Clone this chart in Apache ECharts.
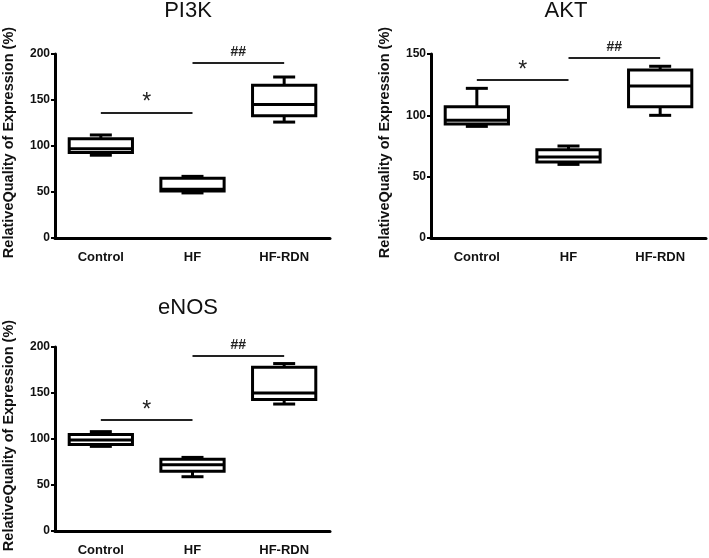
<!DOCTYPE html>
<html>
<head>
<meta charset="utf-8">
<script src="https://cdn.jsdelivr.net/npm/echarts@6/dist/echarts.min.js"></script>
<style>
  html, body { margin: 0; padding: 0; background: #fff; }
  #main { width: 709px; height: 558px; }
</style>
</head>
<body>
<div id="main"></div>
<script>
const categories = ['Control', 'HF', 'HF-RDN'];

// [min, q1, median, q3, max] per group
const pi3kBox = [[90, 93, 97, 108, 112], [49, 51, 53, 65, 67], [126, 133, 145, 166, 175]];
const aktBox = [[91, 93, 96, 107, 122], [60, 62, 66, 72, 75], [100, 107, 124, 137, 140]];
const enosBox = [[92, 94, 99, 105, 108], [59, 65, 72, 78, 80], [138, 143, 150, 178, 182]];

// significance bar heights: [* Control-HF, ## HF-HF-RDN]
const pi3kSig = [136.5, 190.5];
const aktSig = [129, 147];
const enosSig = [120.5, 190];

const titles = ['PI3K', 'AKT', 'eNOS'];
const yMax = [200, 150, 200];
const grids = [
  { left: 54, top: 54, width: 276, height: 184 },
  { left: 431, top: 54, width: 275, height: 184 },
  { left: 54, top: 347, width: 276, height: 184 }
];
const titlePos = [{ left: 188, top: 0 }, { left: 566, top: 0 }, { left: 188, top: 297 }];

const font = 'Liberation Sans, Arial, sans-serif';

function renderBox(params, api) {
  const x = api.value(0);
  const pMin = api.coord([x, api.value(1)]);
  const pQ1 = api.coord([x, api.value(2)]);
  const pMed = api.coord([x, api.value(3)]);
  const pQ3 = api.coord([x, api.value(4)]);
  const pMax = api.coord([x, api.value(5)]);
  const cx = pMed[0];
  const bw = api.size([1, 0])[0] * 0.69;
  const cw = 22;
  const st = { stroke: '#000', lineWidth: 3, fill: null };
  return {
    type: 'group',
    children: [
      { type: 'line', shape: { x1: cx, y1: pQ3[1], x2: cx, y2: pMax[1] }, style: st },
      { type: 'line', shape: { x1: cx, y1: pQ1[1], x2: cx, y2: pMin[1] }, style: st },
      { type: 'line', shape: { x1: cx - cw / 2, y1: pMax[1], x2: cx + cw / 2, y2: pMax[1] }, style: st },
      { type: 'line', shape: { x1: cx - cw / 2, y1: pMin[1], x2: cx + cw / 2, y2: pMin[1] }, style: st },
      { type: 'rect', shape: { x: cx - bw / 2, y: pQ3[1], width: bw, height: pQ1[1] - pQ3[1] },
        style: { stroke: '#000', lineWidth: 3, fill: '#fff' } },
      { type: 'line', shape: { x1: cx - bw / 2, y1: pMed[1], x2: cx + bw / 2, y2: pMed[1] }, style: st }
    ]
  };
}

function sigLine(a, b, y, text, size, weight, dist) {
  return [
    { coord: [a, y], label: { formatter: text, fontSize: size, fontWeight: weight, distance: dist } },
    { coord: [b, y] }
  ];
}

const boxes = [pi3kBox, aktBox, enosBox];
const sigs = [pi3kSig, aktSig, enosSig];

const option = {
  animation: false,
  title: titles.map((t, i) => ({
    text: t,
    left: titlePos[i].left,
    top: titlePos[i].top,
    padding: 0,
    textAlign: 'center',
    textStyle: { fontFamily: font, fontSize: 22, fontWeight: 'normal', color: '#111' }
  })),
  grid: grids,
  xAxis: grids.map((g, i) => ({
    type: 'category',
    gridIndex: i,
    data: categories,
    axisLine: { lineStyle: { color: '#000', width: 3 } },
    axisTick: { alignWithLabel: true, length: 4, lineStyle: { color: '#000', width: 2 } },
    axisLabel: { fontFamily: font, fontSize: 13, fontWeight: 'bold', color: '#111', margin: 13 }
  })),
  yAxis: grids.map((g, i) => ({
    type: 'value',
    gridIndex: i,
    min: 0,
    max: yMax[i],
    interval: 50,
    name: 'RelativeQuality of Expression (%)',
    nameLocation: 'middle',
    nameGap: 39,
    nameTextStyle: { fontFamily: font, fontSize: 14.5, fontWeight: 'bold', color: '#111', padding: [0, 0, 0, 7] },
    splitLine: { show: false },
    axisLine: { show: true, lineStyle: { color: '#000', width: 3 } },
    axisTick: { show: true, length: 4, lineStyle: { color: '#000', width: 2 } },
    axisLabel: { fontFamily: font, fontSize: 12, fontWeight: 'bold', color: '#111', margin: 5 }
  })),
  series: boxes.map((bx, i) => ({
    type: 'custom',
    xAxisIndex: i,
    yAxisIndex: i,
    renderItem: renderBox,
    encode: { x: 0, y: [1, 2, 3, 4, 5] },
    data: bx.map((v, k) => [k].concat(v)),
    markLine: {
      silent: true,
      symbol: 'none',
      lineStyle: { color: '#222', width: 2, type: 'solid' },
      label: { position: 'insideMiddleTop', color: '#222', fontFamily: font },
      data: [
        sigLine(0, 1, sigs[i][0], '*', 23, 'normal', -2),
        sigLine(1, 2, sigs[i][1], '##', 14, 'bold', 4)
      ]
    }
  }))
};

const chart = echarts.init(document.getElementById('main'));
chart.setOption(option);
</script>
</body>
</html>
